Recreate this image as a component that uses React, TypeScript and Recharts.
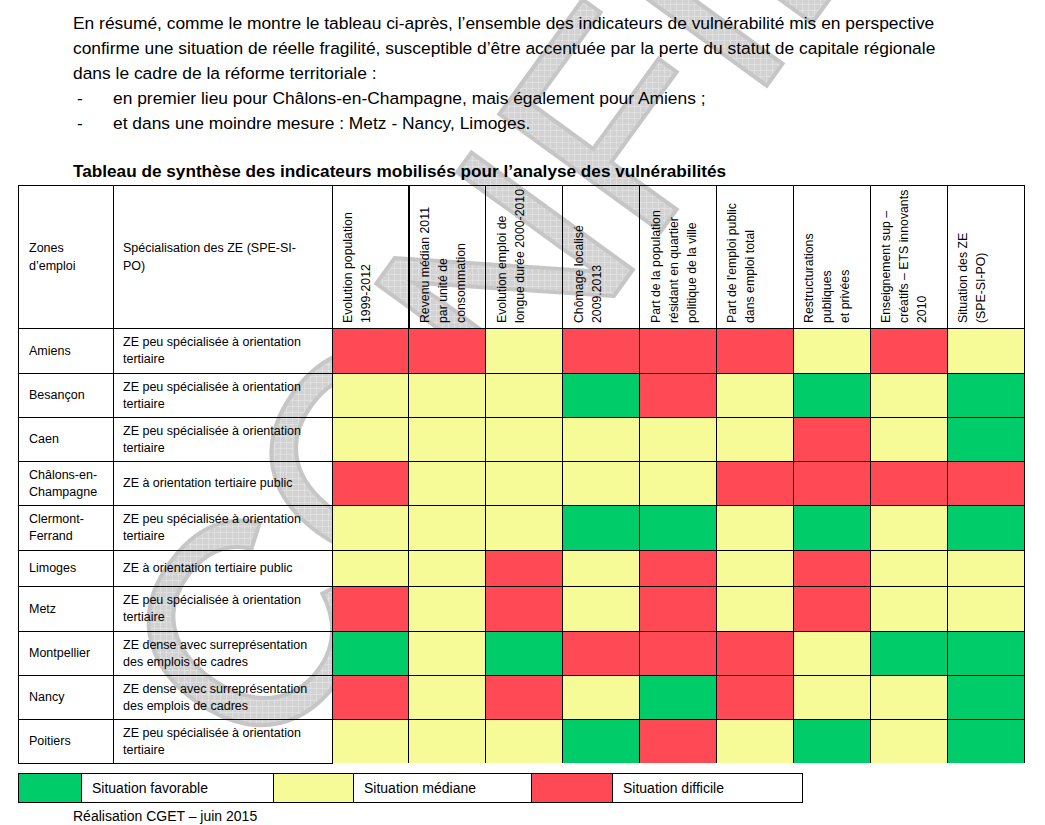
import React from 'react';
import { BarChart, Bar, XAxis, YAxis, Cell, LabelList } from 'recharts';

// indicateurs (colonnes), lignes du titre vertical
const INDICATORS = [
  ['Evolution population', '1999-2012'],
  ['Revenu médian 2011', 'par unité de', 'consommation'],
  ['Evolution emploi de', 'longue durée 2000-2010'],
  ['Chômage localisé', '2009.2013'],
  ['Part de la population', 'résidant en quartier', 'politique de la ville'],
  ["Part de l'emploi public", 'dans emploi total'],
  ['Restructurations', 'publiques', 'et privées'],
  ['Enseignement sup –', 'créatifs – ETS innovants', '2010'],
  ['Situation des ZE', '(SPE-SI-PO)'],
];

const ZONES = [
  ['Amiens'],
  ['Besançon'],
  ['Caen'],
  ['Châlons-en-', 'Champagne'],
  ['Clermont-', 'Ferrand'],
  ['Limoges'],
  ['Metz'],
  ['Montpellier'],
  ['Nancy'],
  ['Poitiers'],
];

const SPECS = [
  ['ZE peu spécialisée à orientation', 'tertiaire'],
  ['ZE peu spécialisée à orientation', 'tertiaire'],
  ['ZE peu spécialisée à orientation', 'tertiaire'],
  ['ZE à orientation tertiaire public'],
  ['ZE peu spécialisée à orientation', 'tertiaire'],
  ['ZE à orientation tertiaire public'],
  ['ZE peu spécialisée à orientation', 'tertiaire'],
  ['ZE dense avec surreprésentation', 'des emplois de cadres'],
  ['ZE dense avec surreprésentation', 'des emplois de cadres'],
  ['ZE peu spécialisée à orientation', 'tertiaire'],
];

// F = favorable, M = médiane, D = difficile
const STATUS = [
  'DDMDDDMDM',
  'MMMFDMFMF',
  'MMMMMMDMF',
  'DMMMMDDDD',
  'MMMFFMFMF',
  'MMDMDMDMM',
  'DMDMDMDMM',
  'FMFDDDMFF',
  'DMDMFDMMF',
  'MMMFDMFMF',
];

const LEGEND = [
  { key: 'F', label: 'Situation favorable' },
  { key: 'M', label: 'Situation médiane' },
  { key: 'D', label: 'Situation difficile' },
];

const COLORS: Record<string, string> = { F: '#00cc6a', M: '#f6fb97', D: '#ff4a55' };

const INTRO = [
  'En résumé, comme le montre le tableau ci-après, l’ensemble des indicateurs de vulnérabilité mis en perspective',
  'confirme une situation de réelle fragilité, susceptible d’être accentuée par la perte du statut de capitale régionale',
  'dans le cadre de la réforme territoriale :',
];
const BULLETS = [
  'en premier lieu pour Châlons-en-Champagne, mais également pour Amiens ;',
  'et dans une moindre mesure : Metz - Nancy, Limoges.',
];
const TITLE = 'Tableau de synthèse des indicateurs mobilisés pour l’analyse des vulnérabilités';
const FOOTER = 'Réalisation CGET – juin 2015';

// mise en page du tableau (px)
const HEADER_H = 143;
const ROW_H = [45, 44, 44, 44, 45, 36, 45, 44, 44, 44];
const TOTAL = HEADER_H + ROW_H.reduce((a, b) => a + b, 0);
const FONT = '"Liberation Sans", Arial, sans-serif';

const tops: number[] = [];
let acc = HEADER_H;
ROW_H.forEach(h => { tops.push(acc); acc += h; });
const CENTERS = [HEADER_H / 2, ...ROW_H.map((h, i) => tops[i] + h / 2)];

const tableData = INDICATORS.map((lines, c) => {
  const row: Record<string, number> = { col: c, head: HEADER_H };
  ROW_H.forEach((h, r) => { row[`r${r}`] = h; });
  return row;
});

const LINE = 17;

const RowTick = (props: any) => {
  const { y, payload } = props;
  const i = CENTERS.findIndex(c => Math.abs(c - payload.value) < 0.01);
  const h = i === 0 ? HEADER_H : ROW_H[i - 1];
  const top = y - h / 2;
  const left = i === 0 ? ['Zones', 'd’emploi'] : ZONES[i - 1];
  const right = i === 0 ? ['Spécialisation des ZE (SPE-SI-', 'PO)'] : SPECS[i - 1];
  const pitch = i === 0 ? 18 : LINE;
  const block = (lines: string[], x: number) =>
    lines.map((t, k) => (
      <text key={k} x={x} y={y + (k - (lines.length - 1) / 2) * pitch} dy="0.35em" fontSize={12.5} fontFamily={FONT} fill="#000">
        {t}
      </text>
    ));
  return (
    <g>
      <rect x={18} y={top} width={314} height={h} fill="none" stroke="#000" shapeRendering="crispEdges" />
      <line x1={113} x2={113} y1={top} y2={top + h} stroke="#000" shapeRendering="crispEdges" />
      {block(left, 29)}
      {block(right, 123)}
    </g>
  );
};

const HeaderLabel = (props: any) => {
  const { x, y, width, height, index } = props;
  const lines = INDICATORS[index] || [];
  const bottom = Math.max(y, y + height);
  const left = Math.min(x, x + width);
  return (
    <g>
      {lines.map((t, k) => {
        const bx = left + 20 + k * 18;
        const by = bottom - 5;
        return (
          <text key={k} x={bx} y={by} transform={`rotate(-90 ${bx} ${by})`} fontSize={12.3} fontFamily={FONT} fill="#000">
            {t}
          </text>
        );
      })}
    </g>
  );
};

const Watermark = () => (
  <svg width={1045} height={825} style={{ position: 'absolute', left: 0, top: 0 }}>
    <defs>
      <pattern id="wm" width="6" height="6" patternUnits="userSpaceOnUse" patternTransform="rotate(54)">
        <rect width="6" height="6" fill="#d2d2d2" />
        <path d="M0 0H6M0 0V6" stroke="#eaeaea" strokeWidth="1" />
      </pattern>
    </defs>
    <text
      transform="translate(268 772) rotate(-54)"
      fontSize={290}
      fontFamily={FONT}
      fill="url(#wm)"
      stroke="#c6c6c6"
      strokeWidth={4}
    >
      CONFIDENTIEL
    </text>
  </svg>
);

const TextLine = ({ x, cy, size, bold, children }: any) => (
  <div
    style={{
      position: 'absolute', left: x, top: cy - 11, lineHeight: '22px', fontSize: size,
      fontWeight: bold ? 'bold' : 'normal', fontFamily: FONT, whiteSpace: 'nowrap', color: '#000',
    }}
  >
    {children}
  </div>
);

const Legend = () => {
  const cells = [
    { x: 18, w: 63, k: 'F' }, { x: 81, w: 192, t: 0 },
    { x: 273, w: 80, k: 'M' }, { x: 353, w: 178, t: 1 },
    { x: 531, w: 81, k: 'D' }, { x: 612, w: 190, t: 2 },
  ];
  return (
    <svg width={1045} height={60} style={{ position: 'absolute', left: 0, top: 765 }}>
      {cells.map((c, i) => (
        <g key={i}>
          <rect x={c.x} y={8} width={c.w} height={29} fill={c.k ? COLORS[c.k] : 'none'} stroke="#000" shapeRendering="crispEdges" />
          {c.t !== undefined && (
            <text x={c.x + 11} y={23} dy="0.35em" fontSize={14} fontFamily={FONT} fill="#000">
              {LEGEND[c.t].label}
            </text>
          )}
        </g>
      ))}
    </svg>
  );
};

export default function App() {
  return (
    <div style={{ position: 'absolute', left: 0, top: 0, width: 1045, height: 825, background: '#fff', overflow: 'hidden' }}>
      <style>{'.recharts-rectangle{shape-rendering:crispEdges}'}</style>
      <Watermark />
      {INTRO.map((t, i) => (
        <TextLine key={i} x={73} cy={23 + i * 25} size={17.4}>{t}</TextLine>
      ))}
      {BULLETS.map((t, i) => (
        <React.Fragment key={i}>
          <TextLine x={77} cy={98 + i * 25} size={17.4}>-</TextLine>
          <TextLine x={113} cy={98 + i * 25} size={17.4}>{t}</TextLine>
        </React.Fragment>
      ))}
      <TextLine x={73} cy={171} size={17.2} bold>{TITLE}</TextLine>
      <BarChart
        width={1045}
        height={825}
        data={tableData}
        margin={{ top: 185, right: 21, bottom: 62, left: 18 }}
        barCategoryGap={0}
        barGap={0}
        style={{ position: 'absolute', left: 0, top: 0 }}
      >
        <XAxis dataKey="col" hide />
        <YAxis
          type="number"
          domain={[0, TOTAL]}
          reversed
          allowDataOverflow
          ticks={CENTERS}
          interval={0}
          width={314}
          axisLine={false}
          tickLine={false}
          tick={<RowTick />}
        />
        <Bar dataKey="head" stackId="t" fill="none" stroke="#000" isAnimationActive={false}>
          <LabelList dataKey="col" content={<HeaderLabel />} />
        </Bar>
        {ROW_H.map((_, r) => (
          <Bar key={r} dataKey={`r${r}`} stackId="t" stroke="#000" isAnimationActive={false}>
            {STATUS[r].split('').map((s, c) => (
              <Cell key={c} fill={COLORS[s]} />
            ))}
          </Bar>
        ))}
      </BarChart>
      <Legend />
      <TextLine x={73} cy={816} size={14}>{FOOTER}</TextLine>
    </div>
  );
}
